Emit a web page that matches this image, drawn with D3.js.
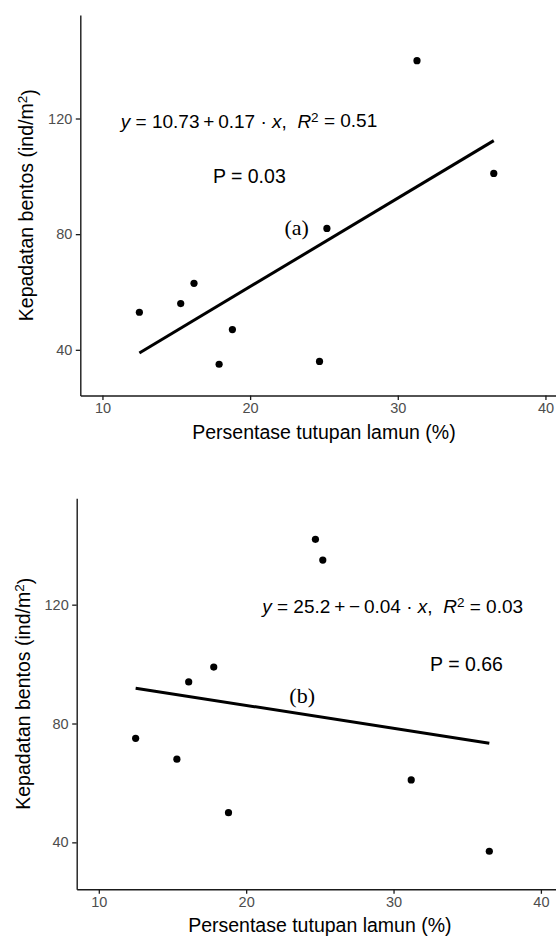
<!DOCTYPE html>
<html>
<head>
<meta charset="utf-8">
<script src="https://cdn.jsdelivr.net/npm/d3@7"></script>
<style>
  body { margin: 0; background: #fff; }
  svg { display: block; }
  text { white-space: pre; }
</style>
</head>
<body>
<div id="chart"></div>
<script>
// panel (a)
const tutupanA = [12.5, 15.3, 16.2, 17.9, 18.8, 24.7, 25.2, 31.3, 36.5];
const bentosA = [53, 56, 63, 35, 47, 36, 82, 140, 101];
// panel (b)
const tutupanB = [12.5, 15.3, 16.1, 17.8, 18.8, 24.7, 25.2, 31.2, 36.5];
const bentosB = [75, 68, 94, 99, 50, 142, 135, 61, 37];

const xTicks = [10, 20, 30, 40];
const yTicks = [40, 80, 120];
const xDomain = [8.5, 41.5];
const yDomain = [24.2, 155.8];

const xTitle = 'Persentase tutupan lamun (%)';
const yTitle = 'Kepadatan bentos (ind/m';

// equation labels as printed on the chart
const eqA = { intercept: '10.73', op: '+', slope: '0.17', r2: '0.51', p: '0.03', tag: '(a)' };
const eqB = { intercept: '25.2', op: '+\u2009\u2212', slope: '0.04', r2: '0.03', p: '0.66', tag: '(b)' };

const width = 556;
const height = 936;
const sans = "'Liberation Sans', Arial, sans-serif";
const serif = "'Liberation Serif', 'Times New Roman', serif";
const thin = '\u2009';

const svg = d3.select('#chart').append('svg')
    .attr('width', width)
    .attr('height', height);

const panels = [
  { xs: tutupanA, ys: bentosA, eq: eqA,
    left: 80.3, top: 15, bottom: 395.5, right: 567.6,
    eqPos: [11.24, 116.8], pPos: [17.48, 97.6], tagPos: [23.15, 79.7] },
  { xs: tutupanB, ys: bentosB, eq: eqB,
    left: 76.7, top: 498.3, bottom: 889.3, right: 563,
    eqPos: [21.09, 117.2], pPos: [32.48, 97.7], tagPos: [23.8, 86.8] },
];

function fitLine(xs, ys) {
  const mx = d3.mean(xs), my = d3.mean(ys);
  let sxy = 0, sxx = 0;
  xs.forEach((v, i) => { sxy += (v - mx) * (ys[i] - my); sxx += (v - mx) * (v - mx); });
  const b = sxy / sxx;
  const a = my - b * mx;
  const ext = d3.extent(xs);
  return ext.map(v => [v, a + b * v]);
}

panels.forEach(p => {
  const x = d3.scaleLinear().domain(xDomain).range([p.left, p.right]);
  const y = d3.scaleLinear().domain(yDomain).range([p.bottom, p.top]);
  const g = svg.append('g');

  // axes
  const xAxis = g.append('g')
      .attr('transform', `translate(0,${p.bottom})`)
      .call(d3.axisBottom(x).tickValues(xTicks).tickSize(4.5).tickPadding(3).tickSizeOuter(0));
  const yAxis = g.append('g')
      .attr('transform', `translate(${p.left},0)`)
      .call(d3.axisLeft(y).tickValues(yTicks).tickSize(4.5).tickPadding(3.5).tickSizeOuter(0));

  [xAxis, yAxis].forEach(ax => {
    ax.select('.domain').attr('stroke', '#1a1a1a').attr('stroke-width', 1.4);
    ax.selectAll('.tick line').attr('stroke', '#1a1a1a').attr('stroke-width', 1.3);
    ax.selectAll('.tick text')
        .attr('fill', '#4d4d4d')
        .style('font-family', sans)
        .style('font-size', '14.5px');
  });

  // regression line
  g.append('path')
      .datum(fitLine(p.xs, p.ys))
      .attr('fill', 'none')
      .attr('stroke', '#000')
      .attr('stroke-width', 3)
      .attr('d', d3.line().x(d => x(d[0])).y(d => y(d[1])));

  // points
  g.selectAll('circle')
      .data(p.xs.map((v, i) => [v, p.ys[i]]))
    .enter().append('circle')
      .attr('cx', d => x(d[0]))
      .attr('cy', d => y(d[1]))
      .attr('r', 3.6)
      .attr('fill', '#000');

  // equation
  const eq = g.append('text')
      .attr('x', x(p.eqPos[0]))
      .attr('y', y(p.eqPos[1]))
      .style('font-family', sans)
      .style('font-size', '19px')
      .attr('fill', '#000');
  eq.append('tspan').style('font-style', 'italic').text('y');
  eq.append('tspan').text(` = ${p.eq.intercept}${thin}${p.eq.op}${thin}${p.eq.slope} \u00b7 `);
  eq.append('tspan').style('font-style', 'italic').text('x');
  eq.append('tspan').text(',  ');
  eq.append('tspan').style('font-style', 'italic').text('R');
  eq.append('tspan').attr('dy', '-0.45em').style('font-size', '13.5px').text('2');
  eq.append('tspan').attr('dy', '0.3em').text(` = ${p.eq.r2}`);

  g.append('text')
      .attr('x', x(p.pPos[0]))
      .attr('y', y(p.pPos[1]))
      .style('font-family', sans)
      .style('font-size', '19.5px')
      .text(`P = ${p.eq.p}`);

  g.append('text')
      .attr('x', x(p.tagPos[0]))
      .attr('y', y(p.tagPos[1]))
      .attr('text-anchor', 'middle')
      .style('font-family', serif)
      .style('font-size', '22px')
      .text(p.eq.tag);

  // axis titles
  g.append('text')
      .attr('x', (p.left + p.right) / 2)
      .attr('y', p.bottom + 43)
      .attr('text-anchor', 'middle')
      .style('font-family', sans)
      .style('font-size', '19.5px')
      .text(xTitle);

  const yt = g.append('text')
      .attr('transform', `translate(${p.left - 47},${(p.top + p.bottom) / 2}) rotate(-90)`)
      .attr('text-anchor', 'middle')
      .style('font-family', sans)
      .style('font-size', '19.5px');
  yt.append('tspan').text(yTitle);
  yt.append('tspan').attr('dy', '-0.45em').style('font-size', '13.5px').text('2');
  yt.append('tspan').attr('dy', '0.45em').text(')');
});
</script>
</body>
</html>
